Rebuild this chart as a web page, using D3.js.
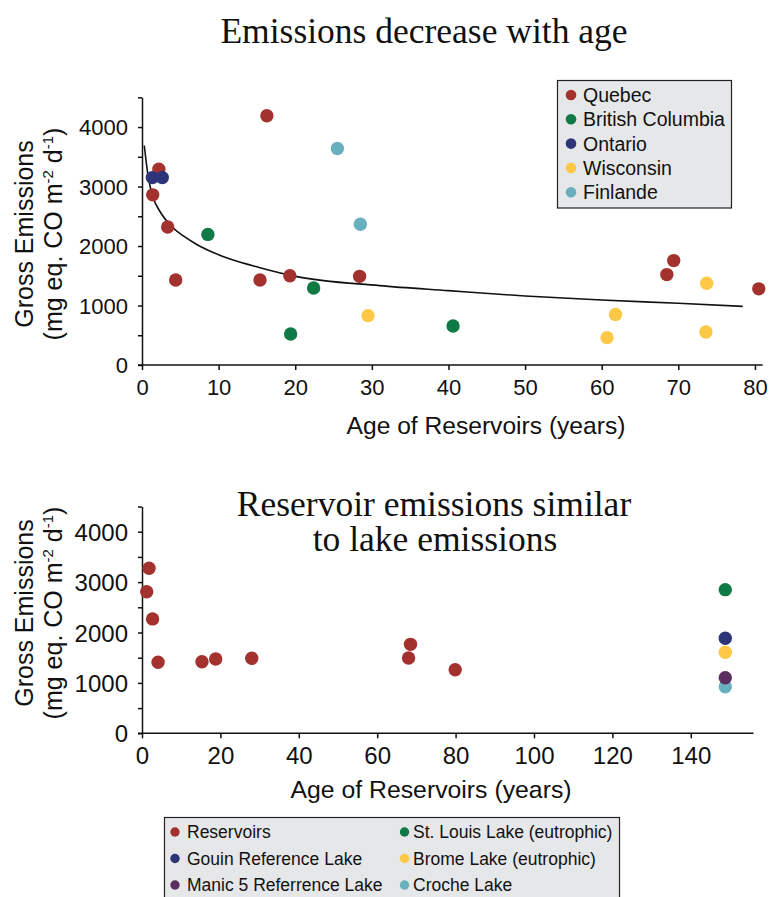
<!DOCTYPE html>
<html>
<head>
<meta charset="utf-8">
<script src="https://cdn.jsdelivr.net/npm/d3@7"></script>
<style>
  html, body { margin: 0; padding: 0; background: #fff; }
  svg { display: block; }
  .tick text { font-family: "Liberation Sans", Arial, sans-serif; fill: #111; }
  .axis path, .axis line { stroke: #111; stroke-width: 1.5; }
</style>
</head>
<body>
<svg id="chart" width="769" height="897"></svg>
<script>
// ---- Top panel: gross emissions vs reservoir age, by region ----
const regionNames  = ["Quebec", "British Columbia", "Ontario", "Wisconsin", "Finlande"];
const regionColors = ["#a3322f", "#0f7a46", "#2e3478", "#fdc846", "#69afbe"];

// [age (years), gross emissions]
const quebec    = [[1.4, 2860], [2.2, 3290], [3.35, 2320], [4.4, 1430], [15.4, 1430], [16.3, 4190],
                   [19.3, 1500], [28.4, 1490], [68.5, 1520], [69.4, 1755], [80.5, 1280]];
const britishColumbia = [[8.6, 2195], [19.4, 520], [22.4, 1295], [40.6, 655]];
const ontario   = [[1.35, 3150], [2.65, 3150]];
const wisconsin = [[29.5, 830], [60.7, 460], [61.8, 850], [73.6, 555], [73.7, 1375]];
const finlande  = [[25.5, 3640], [28.5, 2365]];
const regionSeries = [quebec, britishColumbia, ontario, wisconsin, finlande];

// decreasing trend curve through the panel
const trendCurve = [[0.3, 3690], [0.8, 3170], [1.5, 2800], [2.35, 2580], [3.7, 2350], [5.4, 2170],
                    [7.1, 2030], [9.3, 1890], [11.5, 1780], [15.4, 1635], [20, 1490], [31, 1335],
                    [40, 1250], [50, 1160], [60, 1092], [70, 1037], [78.4, 986]];

const topXTicks = [0, 10, 20, 30, 40, 50, 60, 70, 80];
const yTicks    = [0, 500, 1000, 1500, 2000, 2500, 3000, 3500, 4000, 4500];

// ---- Bottom panel: reservoirs compared with natural lakes ----
const groupNames  = ["Reservoirs", "St. Louis Lake (eutrophic)", "Gouin Reference Lake",
                     "Brome Lake (eutrophic)", "Manic 5 Referrence Lake", "Croche Lake"];
const groupColors = ["#a3322f", "#0f7a46", "#2e3478", "#fdc846", "#5a2f5f", "#69afbe"];

const reservoirs = [[1.2, 2810], [1.8, 3275], [2.7, 2270], [4.1, 1410], [15.3, 1420], [18.8, 1475],
                    [28.0, 1490], [68.0, 1495], [68.5, 1765], [79.9, 1262]];
const stLouisLake = [[148.8, 2850]];
const gouinLake   = [[148.8, 1885]];
const bromeLake   = [[148.8, 1607]];
const manic5Lake  = [[148.8, 1103]];
const crocheLake  = [[148.8, 925]];
const groupSeries = [reservoirs, stLouisLake, gouinLake, bromeLake, manic5Lake, crocheLake];
// drawing order: Croche sits under Manic 5
const groupDrawOrder = [0, 1, 2, 3, 5, 4];
// legend layout: two columns of three
const legendColumns = [[0, 2, 4], [1, 3, 5]];

const bottomXTicks = [0, 20, 40, 60, 80, 100, 120, 140];

const SANS = '"Liberation Sans", Arial, sans-serif';
const SERIF = '"Liberation Serif", "Times New Roman", serif';

const svg = d3.select("#chart");

function yAxisLabel(g, x, y) {
  const t = g.append("text")
    .attr("transform", `translate(${x},${y}) rotate(-90)`)
    .attr("text-anchor", "middle")
    .attr("font-family", SANS)
    .attr("font-size", 25)
    .attr("fill", "#111");
  t.append("tspan").attr("x", 0).attr("dy", 0).text("Gross Emissions");
  const l2 = t.append("tspan").attr("x", 0).attr("dy", 28.5);
  l2.append("tspan").text("(mg eq. CO m");
  l2.append("tspan").attr("dy", -9).attr("font-size", 15).text("-2");
  l2.append("tspan").attr("dy", 9).text(" d");
  l2.append("tspan").attr("dy", -9).attr("font-size", 15).text("-1");
  l2.append("tspan").attr("dy", 9).text(")");
}

function drawAxes(g, x, y, xTicks, tickFont) {
  const yAxis = d3.axisLeft(y)
    .tickValues(yTicks)
    .tickSize(4).tickSizeOuter(0).tickPadding(10)
    .tickFormat(d => d % 1000 === 0 ? d : "");
  const gy = g.append("g").attr("class", "axis").attr("transform", `translate(${x.range()[0]},0)`).call(yAxis);
  gy.selectAll("text").attr("font-size", tickFont).attr("dy", "0.36em");

  const xAxis = d3.axisBottom(x)
    .tickValues(xTicks)
    .tickSize(5).tickSizeOuter(0).tickPadding(9);
  const gx = g.append("g").attr("class", "axis").attr("transform", `translate(0,${y.range()[0]})`).call(xAxis);
  gx.selectAll("text").attr("font-size", tickFont);
  // small stub of the baseline to the left of the vertical axis
  gx.select(".domain").attr("d", `M${x.range()[0] - 4},0H${x.range()[1]}`);
}

// ================= Top panel =================
{
  const g = svg.append("g");
  const x = d3.scaleLinear().domain([0, 81]).range([142, 762.6]);
  const y = d3.scaleLinear().domain([0, 4500]).range([365, 97.3]);

  g.append("text")
    .attr("x", 424).attr("y", 43)
    .attr("text-anchor", "middle")
    .attr("font-family", SERIF).attr("font-size", 35.5).attr("fill", "#111")
    .text("Emissions decrease with age");

  drawAxes(g, x, y, topXTicks, 22);

  g.append("text")
    .attr("x", 486).attr("y", 434)
    .attr("text-anchor", "middle")
    .attr("font-family", SANS).attr("font-size", 24.6).attr("fill", "#111")
    .text("Age of Reservoirs (years)");

  yAxisLabel(g, 33, 234);

  g.append("path")
    .datum(trendCurve)
    .attr("fill", "none").attr("stroke", "#111").attr("stroke-width", 1.6)
    .attr("d", d3.line().x(d => x(d[0])).y(d => y(d[1])).curve(d3.curveMonotoneX));

  regionSeries.forEach((series, i) => {
    g.append("g").selectAll("circle").data(series).join("circle")
      .attr("cx", d => x(d[0])).attr("cy", d => y(d[1]))
      .attr("r", 6.7).attr("fill", regionColors[i]);
  });

  // legend
  const lg = g.append("g");
  lg.append("rect").attr("x", 557.5).attr("y", 80.5).attr("width", 174).attr("height", 127.5)
    .attr("fill", "#e6e7e8").attr("stroke", "#222").attr("stroke-width", 1.2);
  regionNames.forEach((name, i) => {
    const cy = 95 + i * 24.3;
    lg.append("circle").attr("cx", 571).attr("cy", cy).attr("r", 5.3).attr("fill", regionColors[i]);
    lg.append("text").attr("x", 583).attr("y", cy).attr("dy", "0.36em")
      .attr("font-family", SANS).attr("font-size", 19.5).attr("fill", "#111").text(name);
  });
}

// ================= Bottom panel =================
{
  const g = svg.append("g");
  const x = d3.scaleLinear().domain([0, 156]).range([142, 753.5]);
  const y = d3.scaleLinear().domain([0, 4500]).range([733.3, 506.5]);

  const title = g.append("text")
    .attr("text-anchor", "middle")
    .attr("font-family", SERIF).attr("font-size", 35.5).attr("fill", "#111");
  title.append("tspan").attr("x", 434).attr("y", 516).text("Reservoir emissions similar");
  title.append("tspan").attr("x", 435).attr("y", 551).text("to lake emissions");

  drawAxes(g, x, y, bottomXTicks, 24);

  g.append("text")
    .attr("x", 431).attr("y", 798)
    .attr("text-anchor", "middle")
    .attr("font-family", SANS).attr("font-size", 24.8).attr("fill", "#111")
    .text("Age of Reservoirs (years)");

  yAxisLabel(g, 33, 613);

  groupDrawOrder.forEach(i => {
    g.append("g").selectAll("circle").data(groupSeries[i]).join("circle")
      .attr("cx", d => x(d[0])).attr("cy", d => y(d[1]))
      .attr("r", 6.7).attr("fill", groupColors[i]);
  });

  // legend
  const lg = g.append("g");
  lg.append("rect").attr("x", 164.5).attr("y", 817.5).attr("width", 455).attr("height", 90)
    .attr("fill", "#e6e7e8").attr("stroke", "#222").attr("stroke-width", 1.2);
  const colDot = [175, 404.5], colText = [187, 413];
  legendColumns.forEach((col, c) => {
    col.forEach((gi, r) => {
      const cy = 832 + r * 26.5;
      lg.append("circle").attr("cx", colDot[c]).attr("cy", cy).attr("r", 4.7).attr("fill", groupColors[gi]);
      lg.append("text").attr("x", colText[c]).attr("y", cy).attr("dy", "0.36em")
        .attr("font-family", SANS).attr("font-size", 17.5).attr("fill", "#111").text(groupNames[gi]);
    });
  });
}
</script>
</body>
</html>
